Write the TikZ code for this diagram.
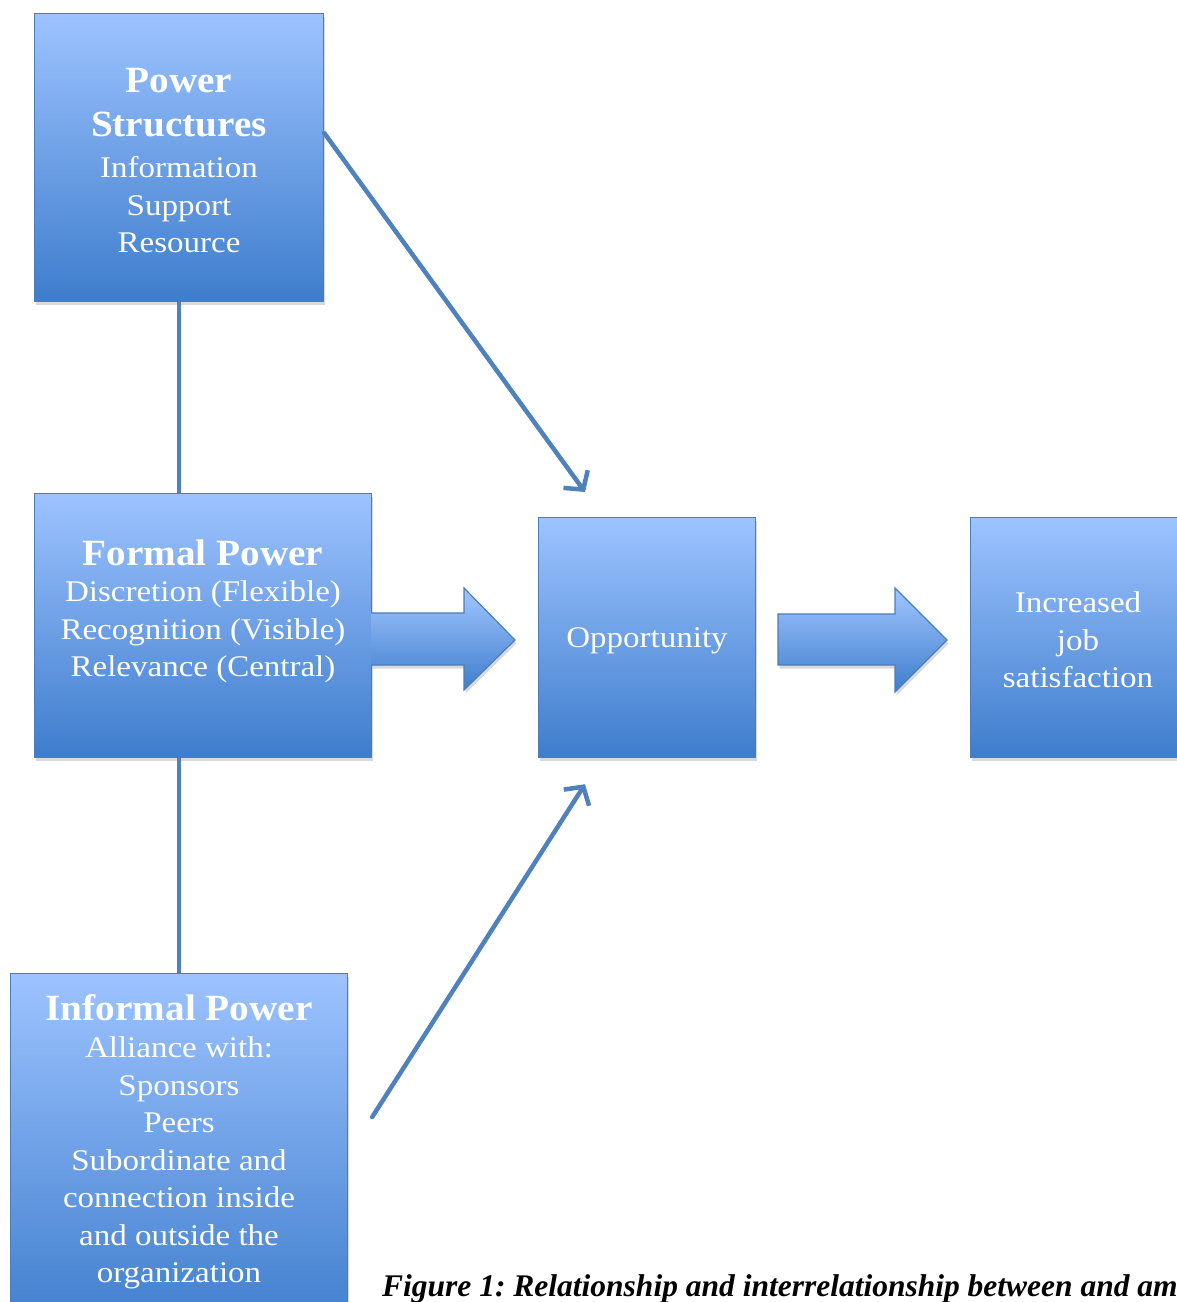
\documentclass[tikz,border=0pt]{standalone}
\usepackage{fontspec}
\setmainfont{Liberation Serif}
\newfontfamily\bodyfont[FakeStretch=1.1]{Liberation Serif}
\newfontfamily\titlefont[FakeStretch=1.06]{Liberation Serif}
\usetikzlibrary{arrows.meta,shadows,calc}
\definecolor{boxtop}{HTML}{9DC3FF}
\definecolor{boxbot}{HTML}{3E7DCC}
\definecolor{boxedge}{HTML}{4A7EBB}
\definecolor{linec}{HTML}{4F81BD}
\tikzset{
  shd/.style={drop shadow={shadow xshift=1.5pt, shadow yshift=-3.5pt, opacity=0.15, fill=black}},
  pbox/.style={draw=boxedge, line width=1.2pt, top color=boxtop, bottom color=boxbot,
    rectangle, inner sep=0pt, anchor=north west, shd},
  ttl/.style={text=white, font=\titlefont\fontsize{37}{44}\selectfont\bfseries, align=center, inner sep=0pt},
  bdy/.style={text=white, font=\bodyfont\fontsize{30}{37.5}\selectfont, align=center, inner sep=0pt},
  conn/.style={draw=linec, line width=4.5pt},
  arr/.style={conn, -{Straight Barb[length=13pt,width=30pt,line width=4.5pt]}, line cap=round},
  blk/.style={top color=boxtop!95!white, bottom color=boxbot},
  blkedge/.style={draw=boxedge, line width=1.2pt, line join=miter},
  capt/.style={font=\fontsize{31.5}{36}\selectfont\bfseries\itshape\frenchspacing, anchor=base west, inner sep=0pt}
}
\begin{document}
\begin{tikzpicture}[x=1pt,y=-1pt]
\useasboundingbox (0,0) rectangle (1177,1302);
\clip (0,0) rectangle (1177,1302);
% boxes
\node[pbox, minimum width=289pt, minimum height=288pt] (ps) at (34,13) {};
\node[pbox, minimum width=337pt, minimum height=264pt] (fp) at (34,493) {};
\node[pbox, minimum width=217pt, minimum height=240pt] (op) at (538,517) {};
\node[pbox, minimum width=217pt, minimum height=240pt] (js) at (970,517) {};
\node[pbox, minimum width=337pt, minimum height=360pt] (ip) at (10,973) {};
% texts
\node[ttl] (pst) at (179,103) {Power\\Structures};
\node[bdy] (psb) at (179,205) {Information\hspace{13pt}\\Support\\Resource};
\node[ttl] (fpt) at (203,553) {Formal Power};
\node[bdy] (fpb) at (203,632) {Discretion (Flexible)\\Recognition (Visible)\\Relevance (Central)};
\node[bdy] (opt) at (647,641) {Opportunity};
\node[bdy] (jst) at (1078,640) {Increased\\job\\satisfaction};
\node[ttl] (ipt) at (179,1008) {Informal Power};
\node[bdy] (ipb) at (179,1163) {Alliance with:\\Sponsors\\Peers\\Subordinate and\\connection inside\\and outside the\\organization};
% connectors
\draw[conn] (ps.south) -- (ps.south |- fp.north);
\draw[conn] (ps.south |- fp.south) -- (ip.north);
\coordinate (a1s) at ([yshift=-120pt]ps.north east);
\coordinate (a1e) at ([xshift=47pt,yshift=25pt]op.north west);
\draw[arr] (a1s) -- (a1e);
\coordinate (a2s) at ([xshift=24pt,yshift=-144pt]ip.north east);
\coordinate (a2e) at ([xshift=47pt,yshift=-26pt]op.south west);
\draw[arr] (a2s) -- (a2e);
% block arrows
\shade[blk, shd]
  (371,613) -- (464,613) -- (464,588) -- (515,640) -- (464,690) -- (464,665) -- (371,665) -- cycle;
\draw[blkedge] (371,613) -- (464,613) -- (464,588) -- (515,640) -- (464,690) -- (464,665) -- (371,665);
\shade[blk, shd]
  (778,614) -- (895,614) -- (895,588) -- (947,640) -- (895,692) -- (895,665) -- (778,665) -- cycle;
\draw[blkedge] (778,614) -- (895,614) -- (895,588) -- (947,640) -- (895,692) -- (895,665) -- (778,665) -- cycle;
% caption
\node[capt] (cap) at (382,1296) {Figure 1: Relationship and interrelationship between and among};
\end{tikzpicture}
\end{document}
